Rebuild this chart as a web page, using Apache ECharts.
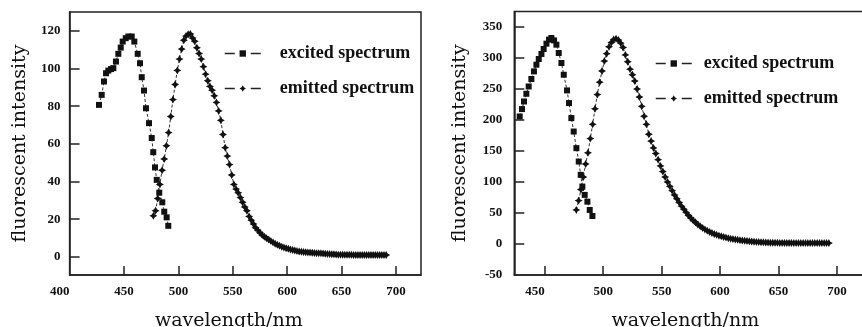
<!DOCTYPE html>
<html>
<head>
<meta charset="utf-8">
<script src="https://cdn.jsdelivr.net/npm/echarts@6/dist/echarts.min.js"></script>
<style>
  html, body { margin: 0; padding: 0; background: #fff; }
  #chart { width: 862px; height: 327px; }
</style>
</head>
<body>
<div id="chart"></div>
<script>
// left panel, excited spectrum (wavelength, intensity)
const exLeftWl = [427, 429.5, 431.6, 433.5, 435.6, 438.1, 440.2, 442.6, 444.8, 447, 448.8, 451.6, 454, 457.1, 459.5, 462.6, 464.7, 466.3, 468.4, 470.2, 473, 475.5, 476.9, 478.5, 480.1, 482.4, 485.2, 487, 489.2, 490.7];
const exLeft = [80.7, 86, 93.1, 97.5, 98.9, 99.7, 100.2, 103.7, 107.8, 111.1, 114.3, 116.1, 117, 117, 114.3, 107.8, 102.8, 95.4, 88.3, 78.9, 71, 63.1, 55.6, 47.5, 40.9, 34.1, 29, 24, 21, 16.5];

// right panel, excited spectrum
const exRightWl = [428.6, 430.6, 432.3, 434.3, 436.3, 438.6, 440.8, 442.9, 444.9, 447.2, 449.1, 451.5, 453.7, 455.7, 458, 460, 462, 464.3, 466.3, 469.1, 470.8, 472.8, 474.8, 477.1, 479.1, 480.8, 482.2, 484.2, 486.5, 488.5, 490.8];
const exRight = [205.7, 217.6, 229.9, 242.3, 254.1, 266.1, 278.4, 289.2, 298.4, 306.5, 314.5, 323.1, 329.6, 332.3, 328.4, 321.5, 308.1, 291.9, 273, 247.7, 227.3, 203.1, 181.4, 154.6, 133, 111.5, 92.6, 79.2, 68.3, 54.9, 45.2];

// emission wavelengths (both panels)
const emWl = [477, 479, 481, 483, 485, 487, 489, 491, 493, 495, 497, 499, 501, 503, 505, 507, 509, 511, 513, 515, 517, 519, 521, 523, 525, 527, 529, 531, 533, 535, 537, 539, 541, 543, 545, 547, 549, 551, 553, 555, 557, 559, 561, 563, 565, 567, 569, 571, 573, 575, 577, 579, 581, 583, 585, 587, 589, 591, 593, 595, 597, 599, 601, 603, 605, 607, 609, 611, 613, 615, 617, 619, 621, 623, 625, 627, 629, 631, 633, 635, 637, 639, 641, 643, 645, 647, 649, 651, 653, 655, 657, 659, 661, 663, 665, 667, 669, 671, 673, 675, 677, 679, 681, 683, 685, 687, 689, 691, 693];

const emLeft = [21.8, 24.5, 31, 38.5, 46, 52, 59, 66, 74.5, 83.5, 91.5, 99, 105, 110.3, 115, 117.2, 118.2, 118.3, 116.2, 114.5, 111, 108, 105, 101, 97, 93.5, 90.5, 88.5, 85.5, 82, 77.5, 72.5, 65, 58, 53.5, 49, 43.5, 38.5, 36, 34, 31.5, 29, 26.5, 24.5, 21.5, 19.5, 17.5, 15.5, 14.2, 12.8, 11.6, 10.7, 9.9, 9.2, 8.4, 7.7, 7.0, 6.4, 5.9, 5.4, 5.0, 4.6, 4.3, 4.0, 3.7, 3.4, 3.1, 2.9, 2.8, 2.6, 2.5, 2.4, 2.3, 2.2, 2.1, 2.0, 2.0, 1.9, 1.8, 1.7, 1.6, 1.5, 1.4, 1.4, 1.3, 1.2, 1.2, 1.2, 1.1, 1.1, 1.1, 1.1, 1.0, 1.0, 1.0, 1.0, 1.0, 1.0, 1.0, 1.0, 1.0, 1.0, 1.0, 1.0, 1.0, 1.0, 1.0, 1.0];

const emRight = [55, 70, 88, 108, 129, 147, 170, 193, 218, 241, 261, 279, 295, 307, 318, 325, 330, 331, 329, 324, 317, 305, 294, 282, 273, 263, 250, 237, 222, 206, 193, 177, 166, 155, 146, 136, 126, 117, 108, 100, 93, 86, 79, 73, 67, 61, 56, 51, 46, 42, 38, 35, 31.5, 28.5, 26, 23.5, 21.5, 19.5, 17.8, 16.2, 14.8, 13.5, 12.5, 11.3, 10.3, 9.4, 8.6, 7.9, 7.3, 6.7, 6.2, 5.7, 5.2, 4.8, 4.4, 4.0, 3.7, 3.4, 3.1, 2.9, 2.7, 2.5, 2.3, 2.1, 2.0, 1.9, 1.9, 1.8, 1.8, 1.7, 1.7, 1.6, 1.6, 1.5, 1.5, 1.5, 1.5, 1.5, 1.5, 1.5, 1.5, 1.5, 1.5, 1.5, 1.5, 1.5, 1.5, 1.5, 1.5];

// tick labels
const xTicksLeft = [400, 450, 500, 550, 600, 650, 700];
const xTicksRight = [450, 500, 550, 600, 650, 700];
const yTicksLeft = [0, 20, 40, 60, 80, 100, 120];
const yTicksRight = [-50, 0, 50, 100, 150, 200, 250, 300, 350];

const seriesNames = ['excited spectrum', 'emitted spectrum'];

const pair = (xs, ys) => ys.map((v, i) => [xs[i], v]);

const starPath = 'path://M5,0 L6.8,3.2 L10,5 L6.8,6.8 L5,10 L3.2,6.8 L0,5 L3.2,3.2 Z';
const lineColor = '#222';
const tickFont = { color: '#111', fontFamily: 'Liberation Serif', fontWeight: 'bold', fontSize: 13 };
const nameFont = { color: '#111', fontFamily: 'DejaVu Serif', fontSize: 19 };

function xAxis(gridIndex, min, max, ticks, namePad) {
  return {
    type: 'value', gridIndex, min, max,
    name: 'wavelength/nm', nameLocation: 'middle', nameGap: 37,
    nameTextStyle: Object.assign({ padding: [0, namePad, 0, 0] }, nameFont),
    axisLine: { show: true, onZero: false, lineStyle: { color: lineColor, width: 1.5 } },
    axisTick: { show: true, inside: true, length: 9, customValues: ticks.filter(t => t > min),
      lineStyle: { color: lineColor, width: 1.5 } },
    axisLabel: Object.assign({ customValues: ticks, margin: 10, alignMinLabel: 'right' }, tickFont),
    splitLine: { show: false }
  };
}

function yAxis(gridIndex, min, max, ticks, nameGap, labelMargin) {
  return {
    type: 'value', gridIndex, min, max,
    name: 'fluorescent intensity', nameLocation: 'middle', nameGap,
    nameTextStyle: nameFont,
    axisLine: { show: true, onZero: false, lineStyle: { color: lineColor, width: 1.5 } },
    axisTick: { show: true, inside: true, length: 10, customValues: ticks.filter(t => t > min),
      lineStyle: { color: lineColor, width: 1.5 } },
    axisLabel: Object.assign({ customValues: ticks, margin: labelMargin }, tickFont),
    splitLine: { show: false }
  };
}

function spectrum(name, idx, data, symbol, size) {
  return {
    name, type: 'line', xAxisIndex: idx, yAxisIndex: idx, data,
    symbol, symbolSize: size, showSymbol: true,
    itemStyle: { color: '#111' },
    lineStyle: { color: '#333', width: 1, type: [3, 2] },
    animation: false
  };
}

function legend(left, top, textGap) {
  return {
    data: seriesNames, orient: 'vertical', left, top,
    itemWidth: 36, itemHeight: 8, itemGap: 14,
    selectedMode: false,
    lineStyle: { type: [10, 16], width: 1.5, color: '#222' },
    textStyle: { color: '#111', fontFamily: 'Liberation Serif', fontWeight: 'bold',
      fontSize: 18, lineHeight: 21, padding: [0, 0, 0, textGap] }
  };
}

const chart = echarts.init(document.getElementById('chart'), null, { renderer: 'canvas' });

chart.setOption({
  backgroundColor: '#fff',
  animation: false,
  grid: [
    { left: 69.6, top: 12, width: 351.4, height: 263, show: true, borderColor: lineColor, borderWidth: 1.5,
      containLabel: false, outerBoundsMode: 'none' },
    { left: 514.3, top: 11.5, width: 350, height: 263.5, show: true, borderColor: lineColor, borderWidth: 1.5,
      containLabel: false, outerBoundsMode: 'none' }
  ],
  xAxis: [
    xAxis(0, 400, 723, xTicksLeft, 33),
    xAxis(1, 424, 723.3, xTicksRight, 8)
  ],
  yAxis: [
    yAxis(0, -9.6, 130, yTicksLeft, 40, 9),
    yAxis(1, -50, 375, yTicksRight, 45, 12)
  ],
  legend: [legend(219, 38, 14), legend(650, 48, 7)],
  series: [
    spectrum(seriesNames[0], 0, pair(exLeftWl, exLeft), 'rect', 6),
    spectrum(seriesNames[1], 0, pair(emWl, emLeft), starPath, 8),
    spectrum(seriesNames[0], 1, pair(exRightWl, exRight), 'rect', 6),
    spectrum(seriesNames[1], 1, pair(emWl, emRight), starPath, 8)
  ]
});
</script>
</body>
</html>
